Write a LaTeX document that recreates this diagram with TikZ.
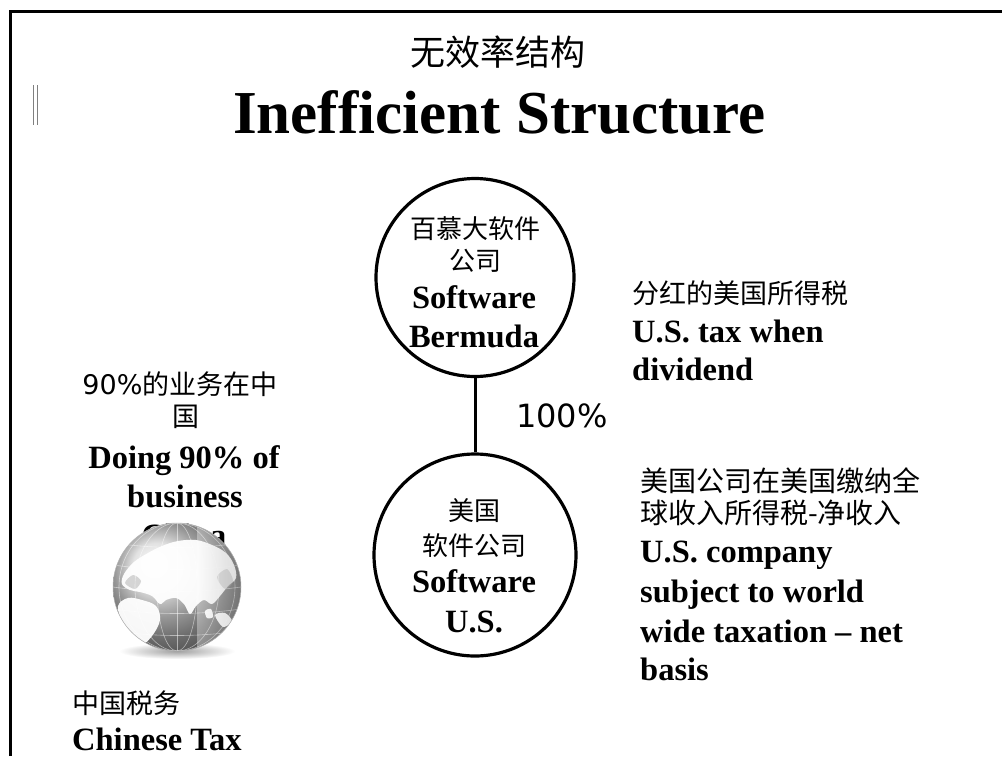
\documentclass[tikz,border=0pt]{standalone}
\usepackage{fontspec}
\setmainfont{Liberation Serif}
\newfontfamily\cjkfont{Noto Sans CJK SC}
\newfontfamily\numfont{DejaVu Sans}
\begin{document}
\begin{tikzpicture}[x=1pt,y=-1pt,
  cjk/.style={font=\cjkfont\fontsize{#1}{#1}\selectfont, inner sep=0pt},
  cjk/.default=27,
  eng/.style={font=\bfseries\fontsize{32.5}{32.5}\selectfont, inner sep=0pt},
  entity/.style={draw, circle, line width=3.2pt, inner sep=0pt, minimum size=#1},
  link/.style={line width=3pt},
  frameline/.style={line width=3pt},
  gridline/.style={white, opacity=.5, line width=.6pt},
  land/.style={fill=white, fill opacity=.95}]
\useasboundingbox (0,0) rectangle (1002,756);
\fill[white] (0,0) rectangle (1002,756);

% slide frame (top and left edges)
\draw[frameline] (10.7,756) -- (10.7,11) -- (1002,11);
% small double bar at the left margin
\draw[gray, line width=1.2pt] (33.5,85) -- (33.5,125);
\draw[gray, line width=1.2pt] (37.5,85) -- (37.5,125);

% title
\node[cjk=35, anchor=base] (titlecn) at (498,65.5) {无效率结构};
\node[font=\bfseries\fontsize{61}{61}\selectfont, inner sep=0pt, anchor=base] (titleen) at (499.5,133) {Inefficient Structure};

% the two companies
\node[entity=198pt] (bermuda) at (475,277.5) {};
\node[entity=202pt] (usco) at (475,555) {};
\draw[link] (bermuda.south) -- (usco.north);

\node[cjk=26, anchor=base] (bm1) at (475,238) {百慕大软件};
\node[cjk=26, anchor=base] (bm2) at (475,270) {公司};
\node[eng, anchor=base] (bm3) at (474,308) {Software};
\node[eng, anchor=base] (bm4) at (474,347) {Bermuda};

\node[cjk=26, anchor=base] (us1) at (474,520) {美国};
\node[cjk=26, anchor=base] (us2) at (474,555) {软件公司};
\node[eng, anchor=base] (us3) at (474,592) {Software};
\node[eng, anchor=base] (us4) at (474,632) {U.S.};

% ownership share
\node[font=\numfont\fontsize{32}{32}\selectfont, inner sep=0pt, anchor=base west] (pct) at (516,427) {100\%};

% dividend tax note
\node[cjk, anchor=base west] (dv1) at (632,303) {分红的美国所得税};
\node[eng, anchor=base west] (dv2) at (632,342) {U.S. tax when};
\node[eng, anchor=base west] (dv3) at (632,380) {dividend};

% worldwide taxation note
\node[cjk=28, anchor=base west] (ww1) at (640,491) {美国公司在美国缴纳全};
\node[cjk=28, anchor=base west] (ww2) at (640,523) {球收入所得税-净收入};
\node[eng, anchor=base west] (ww3) at (640,562) {U.S. company};
\node[eng, anchor=base west] (ww4) at (640,602) {subject to world};
\node[eng, anchor=base west] (ww5) at (640,642) {wide taxation \textendash{} net};
\node[eng, anchor=base west] (ww6) at (640,680) {basis};

% business in China
\node[cjk, anchor=base] (biz1) at (180,394) {{\numfont 90\%}的业务在中};
\node[cjk, anchor=base] (biz2) at (186,426) {国};
\node[eng, anchor=base] (biz3) at (184,468) {Doing 90\% of};
\node[eng, anchor=base] (biz4) at (185,507) {business};
\node[eng, anchor=base] (biz5) at (184,546) {China};

% globe
\begin{scope}[shift={(177,587)}]
  \shade[inner color=gray!75, outer color=white] (0,64) ellipse (58pt and 8pt);
  \begin{scope}[yscale=-1]
    \shade[ball color=gray!30] (0,0) circle (64pt);
  \end{scope}
  \begin{scope}
    \clip (0,0) circle (64pt);
    % Eurasia
    \path[land] plot[smooth cycle, tension=.6] coordinates {
      (-53,-13) (-43,-25) (-29,-34) (-15,-41) (1,-46) (19,-47) (35,-42)
      (49,-34) (57,-22) (59,-9) (51,-1) (43,9) (35,17) (27,13) (19,19)
      (13,27) (7,17) (-1,11) (-11,13) (-17,17) (-25,9) (-37,5) (-47,3) (-55,-3)};
    % Africa
    \path[land] plot[smooth cycle, tension=.6] coordinates {
      (-49,11) (-35,13) (-21,19) (-17,33) (-25,49) (-37,59) (-47,53) (-55,35) (-59,19)};
    % islands
    \path[land] plot[smooth cycle] coordinates {(38,28) (48,26) (55,34) (46,40)};
    \path[land] plot[smooth cycle] coordinates {(28,24) (34,22) (36,30) (30,31)};
    % darker interior patches
    \fill[gray!70, opacity=.45] plot[smooth cycle] coordinates {(-52,-4) (-44,-12) (-36,-6) (-42,2)};
    \fill[gray!70, opacity=.45] plot[smooth cycle] coordinates {(40,-10) (50,-18) (56,-6) (48,2)};
    % graticule
    \foreach \r in {20,42,58} \draw[gridline] (0,0) ellipse (\r pt and 64pt);
    \draw[gridline] (0,-64) -- (0,64);
    \foreach \h in {-44,-22,0,22,44} \draw[gridline] (-64,\h) .. controls (-20,\h+6) and (20,\h+6) .. (64,\h);
    % darker rim on the right
    \shade[left color=white, right color=gray!70, opacity=.35] (20,-64) rectangle (64,64);
  \end{scope}
  \draw[gray!60, line width=.5pt] (0,0) circle (64pt);
\end{scope}

% Chinese tax
\node[cjk, anchor=base west] (cn1) at (72,713) {中国税务};
\node[eng, anchor=base west] (cn2) at (72,750) {Chinese Tax};
\end{tikzpicture}
\end{document}
